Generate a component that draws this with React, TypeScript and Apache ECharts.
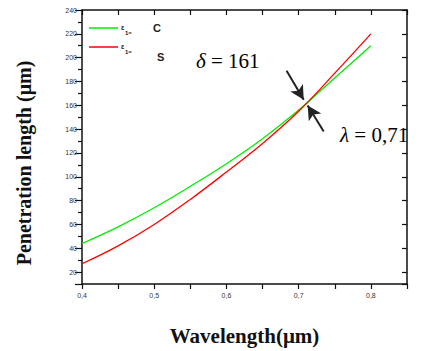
import React, { useEffect, useRef } from "react";
import * as echarts from "echarts";

const wavelengths = [0.4, 0.45, 0.5, 0.55, 0.6, 0.65, 0.7, 0.75, 0.8];
const seriesC = [44, 58, 74, 92, 111, 132, 156, 183, 210];
const seriesS = [27, 42, 60, 81, 104, 128, 155, 187, 220];
const legendNames = ["C", "S"];
const deltaSymbol = "δ";
const deltaValue = " = 161";
const lambdaSymbol = "λ";
const lambdaValue = " = 0,71";
// arrow annotations in data coordinates [tail, tip]
const arrowUpper = [[0.6833, 189], [0.707, 164.7]];
const arrowLower = [[0.7347, 138], [0.7125, 159.8]];

export default function App() {
  const ref = useRef<HTMLDivElement>(null);
  useEffect(() => {
    document.body.style.margin = "0";
    if (!ref.current) return;
    const chart = echarts.init(ref.current, null, { renderer: "svg" });
    const black = "#111";
    const tickFont = { fontSize: 7, color: "#333", fontFamily: "Liberation Sans" };
    const annRich = {
      s: { fontFamily: "Liberation Serif", fontStyle: "italic", fontSize: 21, color: "#2b2b3b" },
      v: { fontFamily: "Liberation Serif", fontSize: 21, color: "#2b2b3b" },
    };
    chart.setOption({
      animation: false,
      backgroundColor: "#fff",
      grid: { left: 82, right: 16, top: 10, bottom: 64, containLabel: false },
      xAxis: [
        {
          type: "value",
          min: 0.4,
          max: 0.85,
          interval: 0.05,
          position: "bottom",
          axisLine: { show: true, lineStyle: { color: black, width: 1.5 } },
          axisTick: { show: true, inside: false, length: 5, lineStyle: { color: black, width: 1.2 } },
          splitLine: { show: false },
          axisLabel: {
            ...tickFont,
            margin: 8,
            formatter: (v: number) => {
              const r = Math.round(v * 100);
              return r % 10 === 0 && r <= 80 ? (r / 100).toFixed(1).replace(".", ",") : "";
            },
          },
          name: "Wavelength(μm)",
          nameLocation: "middle",
          nameGap: 41,
          nameTextStyle: { fontFamily: "Liberation Serif", fontWeight: "bold", fontSize: 21, color: "#111" },
        },
        {
          type: "value",
          min: 0.4,
          max: 0.85,
          interval: 0.05,
          position: "top",
          axisLine: { show: true, lineStyle: { color: black, width: 1.5 } },
          axisTick: { show: true, inside: true, length: 5, lineStyle: { color: black, width: 1.2 } },
          axisLabel: { show: false },
          splitLine: { show: false },
        },
      ],
      yAxis: [
        { type: "value", min: 10, max: 240, show: false, splitLine: { show: false } },
        {
          type: "value",
          min: -240,
          max: -10,
          interval: 20,
          inverse: true,
          position: "left",
          axisLine: { show: true, lineStyle: { color: black, width: 1.5 } },
          axisTick: { show: true, inside: false, length: 7, lineStyle: { color: black, width: 1.2 } },
          minorTick: { show: true, splitNumber: 2, length: 4, lineStyle: { color: black, width: 1.2 } },
          splitLine: { show: false },
          minorSplitLine: { show: false },
          axisLabel: {
            ...tickFont,
            margin: 5,
            showMaxLabel: false,
            formatter: (v: number) => (Math.round(-v) % 20 === 0 ? String(Math.round(-v)) : ""),
          },
        },
        {
          type: "value",
          min: -240,
          max: -10,
          interval: 20,
          inverse: true,
          position: "right",
          axisLine: { show: true, lineStyle: { color: black, width: 1.5 } },
          axisTick: { show: true, inside: true, length: 5, lineStyle: { color: black, width: 1.2 } },
          axisLabel: { show: false },
          splitLine: { show: false },
        },
      ],
      series: [
        {
          name: legendNames[0],
          type: "line",
          xAxisIndex: 0,
          yAxisIndex: 0,
          data: wavelengths.map((w, i) => [w, seriesC[i]]),
          showSymbol: false,
          smooth: 0.4,
          lineStyle: { color: "#00ee00", width: 1.3 },
          z: 3,
          markLine: {
            silent: true,
            symbol: ["none", "arrow"],
            symbolSize: [11, 14],
            label: { show: false },
            lineStyle: { color: "#222", width: 2, type: "solid" },
            data: [
              [{ coord: arrowUpper[0] }, { coord: arrowUpper[1] }],
              [{ coord: arrowLower[0] }, { coord: arrowLower[1] }],
            ],
          },
        },
        {
          name: legendNames[1],
          type: "line",
          xAxisIndex: 0,
          yAxisIndex: 0,
          data: wavelengths.map((w, i) => [w, seriesS[i]]),
          showSymbol: false,
          smooth: 0.4,
          lineStyle: { color: "#ff0000", width: 1.3 },
          z: 4,
        },
      ],
      graphic: [
        {
          type: "text",
          x: 24,
          y: 163,
          rotation: Math.PI / 2,
          style: {
            text: "Penetration length (μm)",
            font: 'bold 20px "Liberation Serif"',
            fill: "#111",
            align: "center",
            verticalAlign: "middle",
          },
        },
        { type: "line", shape: { x1: 89, y1: 28, x2: 118, y2: 28 }, style: { stroke: "#00ee00", lineWidth: 1.5 } },
        { type: "line", shape: { x1: 89, y1: 47, x2: 118, y2: 47 }, style: { stroke: "#ff0000", lineWidth: 1.5 } },
        { type: "text", x: 121, y: 27, style: { text: "ε", font: 'bold 7px "Liberation Sans"', fill: "#222", verticalAlign: "middle" } },
        { type: "text", x: 125, y: 33, style: { text: "1=", font: 'bold 6px "Liberation Sans"', fill: "#222", verticalAlign: "middle" } },
        { type: "text", x: 121, y: 46, style: { text: "ε", font: 'bold 7px "Liberation Sans"', fill: "#222", verticalAlign: "middle" } },
        { type: "text", x: 125, y: 52, style: { text: "1=", font: 'bold 6px "Liberation Sans"', fill: "#222", verticalAlign: "middle" } },
        { type: "text", x: 153, y: 28, style: { text: legendNames[0], font: 'bold 11px "Liberation Sans"', fill: "#222", verticalAlign: "middle" } },
        { type: "text", x: 157, y: 57, style: { text: legendNames[1], font: 'bold 11px "Liberation Sans"', fill: "#222", verticalAlign: "middle" } },
        {
          type: "text",
          x: 196,
          y: 61,
          style: { text: `{s|${deltaSymbol}}{v|${deltaValue}}`, rich: annRich, verticalAlign: "middle" },
        },
        {
          type: "text",
          x: 340,
          y: 135,
          style: { text: `{s|${lambdaSymbol}}{v|${lambdaValue}}`, rich: annRich, verticalAlign: "middle" },
        },
      ],
    });
    return () => chart.dispose();
  }, []);
  return <div ref={ref} style={{ width: 423, height: 351 }} />;
}
